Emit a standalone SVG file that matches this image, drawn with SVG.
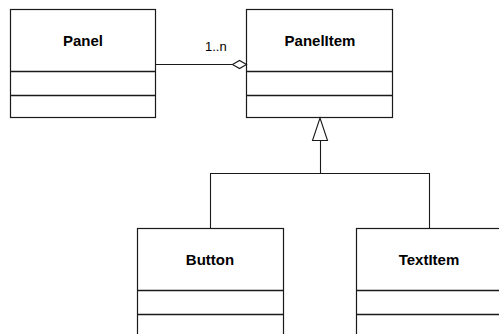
<svg xmlns="http://www.w3.org/2000/svg" width="499" height="334" viewBox="0 0 499 334">
  <defs>
    <style>
      .box { fill: #ffffff; stroke: #1a1a1a; stroke-width: 1.2; }
      .sep { stroke: #1a1a1a; stroke-width: 1.6; }
      .name { font-family: "Liberation Sans", Arial, sans-serif; font-weight: bold; font-size: 15px; text-anchor: middle; fill: #000; }
      .label { font-family: "Liberation Sans", Arial, sans-serif; font-size: 13px; fill: #000; }
      .edge { fill: none; stroke: #1a1a1a; stroke-width: 1.1; }
    </style>
  </defs>
  <rect width="499" height="334" fill="#ffffff"/>

  <g id="Panel">
    <rect class="box" x="10.5" y="9.5" width="145" height="108"/>
    <line class="sep" x1="10.5" y1="71.5" x2="155.5" y2="71.5"/>
    <line class="sep" x1="10.5" y1="95.5" x2="155.5" y2="95.5"/>
    <text class="name" x="83" y="46">Panel</text>
  </g>

  <g id="PanelItem">
    <rect class="box" x="246.5" y="9.5" width="146" height="108"/>
    <line class="sep" x1="246.5" y1="71.5" x2="392.5" y2="71.5"/>
    <line class="sep" x1="246.5" y1="95.5" x2="392.5" y2="95.5"/>
    <text class="name" x="320" y="46">PanelItem</text>
  </g>

  <g id="Button">
    <rect class="box" x="137.5" y="228.5" width="146" height="110"/>
    <line class="sep" x1="137.5" y1="290.5" x2="283.5" y2="290.5"/>
    <line class="sep" x1="137.5" y1="314.5" x2="283.5" y2="314.5"/>
    <text class="name" x="210" y="265">Button</text>
  </g>

  <g id="TextItem">
    <rect class="box" x="356.5" y="228.5" width="146" height="110"/>
    <line class="sep" x1="356.5" y1="290.5" x2="502.5" y2="290.5"/>
    <line class="sep" x1="356.5" y1="314.5" x2="502.5" y2="314.5"/>
    <text class="name" x="429" y="265">TextItem</text>
  </g>

  <g id="connectors">
    <!-- aggregation: Panel to PanelItem -->
    <line class="edge" x1="155.5" y1="64.5" x2="232.5" y2="64.5"/>
    <polygon class="edge" fill="#ffffff" points="232.5,64.5 239.5,60.5 246.5,64.5 239.5,68.5"/>
    <text class="label" x="205" y="51">1..n</text>

    <!-- generalization: Button, TextItem to PanelItem -->
    <polygon class="edge" fill="#ffffff" points="320,118 327.5,140.5 312.5,140.5"/>
    <polyline class="edge" points="320.5,140.5 320.5,173.5"/>
    <polyline class="edge" points="210.5,228.5 210.5,173.5 429.5,173.5 429.5,228.5"/>
  </g>
</svg>
